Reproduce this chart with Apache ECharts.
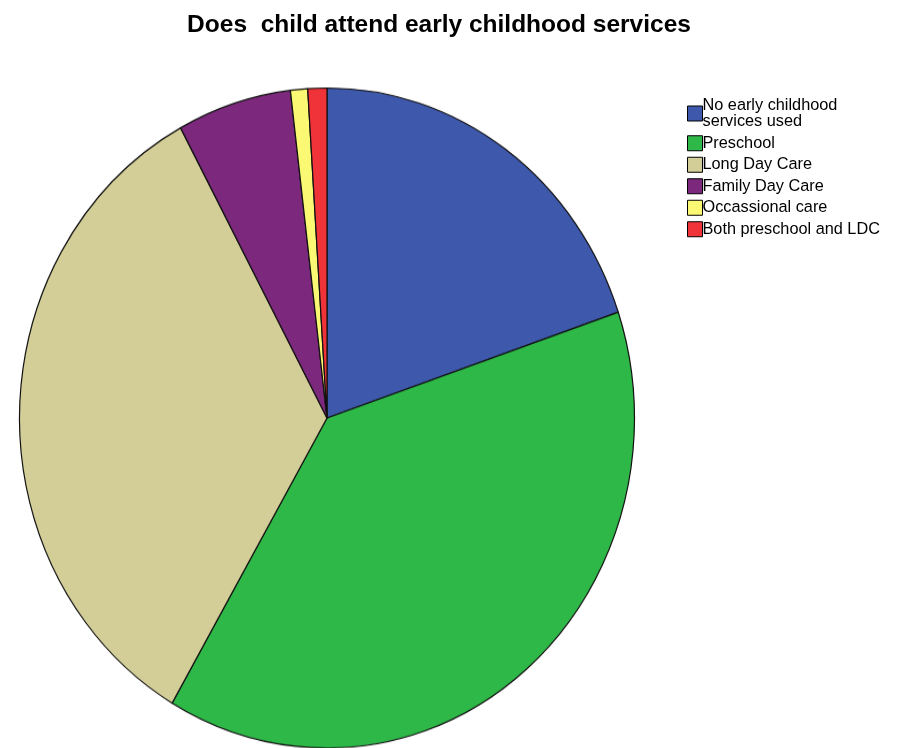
<!DOCTYPE html>
<html>
<head>
<meta charset="utf-8">
<script src="https://cdn.jsdelivr.net/npm/echarts@6/dist/echarts.min.js"></script>
<style>
html,body{margin:0;padding:0;background:#fff;}
#wrap{position:relative;width:897px;height:748px;overflow:hidden;}
#pie{position:absolute;left:0;top:0;width:897px;height:748px;transform:scaleY(1.0732);transform-origin:327px 418px;}
#front{position:absolute;left:0;top:0;width:897px;height:748px;}
</style>
</head>
<body>
<div id="wrap"><div id="pie"></div><div id="front"></div></div>
<script>
const titleText = 'Does  child attend early childhood services';
const categories = ['No early childhood\nservices used', 'Preschool', 'Long Day Care', 'Family Day Care', 'Occassional care', 'Both preschool and LDC'];
const values = [19.8, 38.6, 33.7, 6.0, 0.9, 1.0];
const colors = ['#3E58AC', '#2EB848', '#D3CE97', '#7C287D', '#FBF873', '#EF3338'];

const pieData = categories.map((c, i) => ({ name: c, value: values[i] }));

const pieChart = echarts.init(document.getElementById('pie'));
pieChart.setOption({
  animation: false,
  color: colors,
  series: [{
    type: 'pie',
    center: [327, 418],
    radius: [0, 307.5],
    startAngle: 90,
    clockwise: true,
    label: { show: false },
    labelLine: { show: false },
    emphasis: { disabled: true },
    itemStyle: { borderColor: '#111', borderWidth: 1.2 },
    data: pieData
  }]
});

const front = echarts.init(document.getElementById('front'));
front.setOption({
  animation: false,
  color: colors,
  title: {
    text: titleText,
    left: 434,
    top: 8,
    textAlign: 'center',
    textStyle: { fontFamily: 'Liberation Sans, Arial, sans-serif', fontSize: 24.5, fontWeight: 'bold', color: '#000' }
  },
  legend: {
    orient: 'vertical',
    left: 682,
    top: 92,
    itemWidth: 15,
    itemHeight: 15,
    itemGap: 5,
    icon: 'rect',
    selectedMode: false,
    itemStyle: { borderColor: '#000', borderWidth: 1 },
    textStyle: { fontFamily: 'Liberation Sans, Arial, sans-serif', fontSize: 16.3, color: '#000', lineHeight: 16.5, padding: [0, 0, 0, -5] },
    data: categories
  },
  series: [{
    type: 'pie',
    center: [-2000, -2000],
    radius: [0, 10],
    label: { show: false },
    silent: true,
    data: pieData
  }]
});
</script>
</body>
</html>
